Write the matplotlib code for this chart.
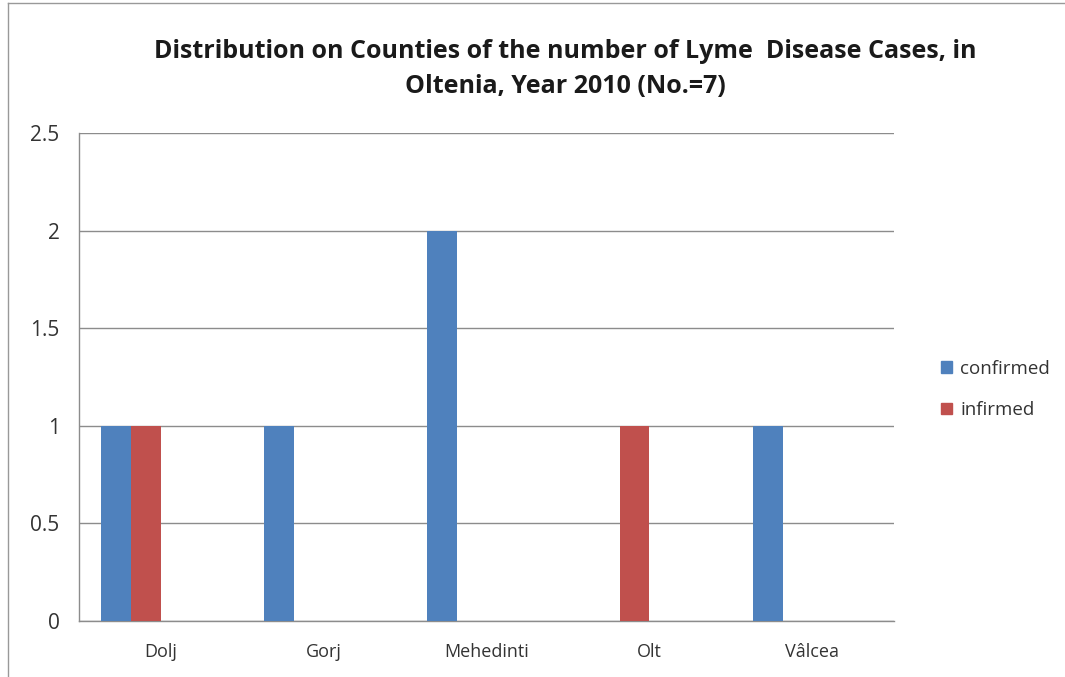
import matplotlib.pyplot as plt
import numpy as np
from matplotlib.lines import Line2D
from matplotlib.patches import Patch

plt.rcParams['font.family'] = ['Open Sans', 'DejaVu Sans']

counties = ["Dolj", "Gorj", "Mehedinti", "Olt", "Vâlcea"]
confirmed = [1, 1, 2, 0, 1]
infirmed = [1, 0, 0, 1, 0]
yticks = [0, 0.5, 1, 1.5, 2, 2.5]
ytick_labels = ["0", "0.5", "1", "1.5", "2", "2.5"]

blue = "#4F81BD"
red = "#C0504D"
grid = "#8c8c8c"

fig = plt.figure(figsize=(10.65, 6.77), dpi=100)
ax = fig.add_axes([0.0742, 0.0827, 0.7652, 0.7208])

# excel layout: 4 series slots per category, gap width 150%
w = 1 / 5.5
x = np.arange(len(counties))
ax.bar(x - 1.5 * w, confirmed, w, color=blue, label="confirmed", zorder=3)
ax.bar(x - 0.5 * w, infirmed, w, color=red, label="infirmed", zorder=3)

ax.set_xlim(-0.5, len(counties) - 0.5)
ax.set_ylim(0, 2.5)
ax.set_yticks(yticks)
ax.set_yticklabels(ytick_labels, fontsize=15, color="#333333")
ax.set_xticks(x)
ax.set_xticklabels(counties, fontsize=13, color="#333333")
ax.tick_params(axis="both", length=0)
ax.tick_params(axis="x", pad=16)
ax.tick_params(axis="y", pad=14)
ax.yaxis.grid(True, color=grid, linewidth=1, zorder=0)
for s in ["top", "right"]:
    ax.spines[s].set_visible(False)
for s in ["left", "bottom"]:
    ax.spines[s].set_color(grid)
    ax.spines[s].set_linewidth(1)

handles = [Patch(color=blue), Patch(color=red)]
leg = fig.legend(handles, ["confirmed", "infirmed"], loc="center left",
                 bbox_to_anchor=(0.868, 0.425), frameon=False,
                 handlelength=0.55, handleheight=0.55, handletextpad=0.45,
                 labelspacing=1.25, prop={'size': 13.5})
for t in leg.get_texts():
    t.set_color("#333333")

fig.text(0.531, 0.898,
         "Distribution on Counties of the number of Lyme  Disease Cases, in\nOltenia, Year 2010 (No.=7)",
         ha="center", va="center", fontsize=18, fontweight="bold",
         linespacing=1.5, color="#1a1a1a")

# chart border
fig.add_artist(Line2D([8 / 1065, 8 / 1065], [0, 1 - 3 / 677], transform=fig.transFigure, color="#999999", lw=1))
fig.add_artist(Line2D([8 / 1065, 1], [1 - 3 / 677, 1 - 3 / 677], transform=fig.transFigure, color="#999999", lw=1))

plt.savefig("out.png", dpi=100)
